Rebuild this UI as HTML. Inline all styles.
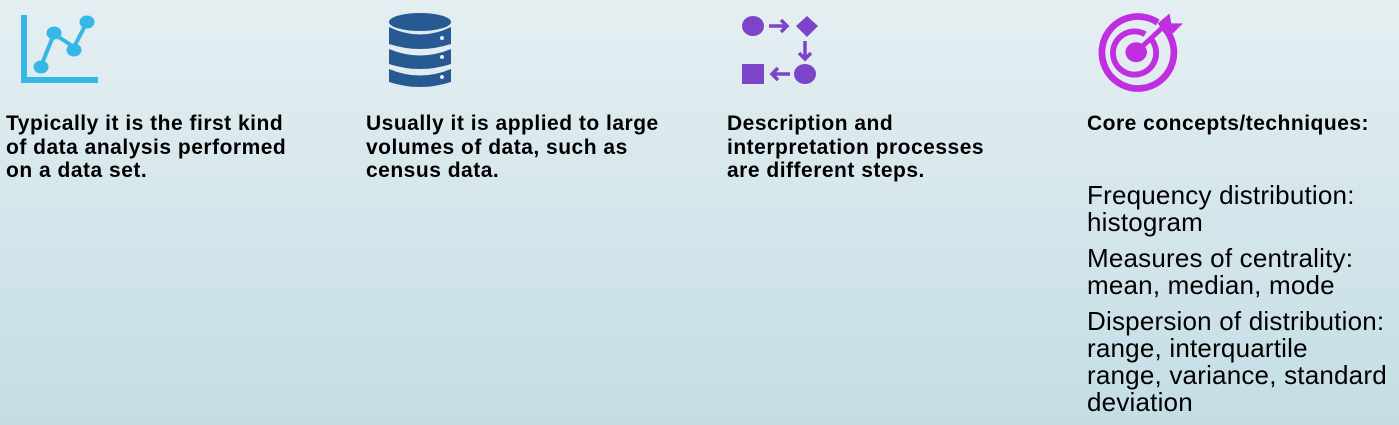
<!DOCTYPE html>
<html><head><style>
html,body{margin:0;padding:0}
body{width:1399px;height:425px;overflow:hidden;background:linear-gradient(#e5eff2,#c4dde5);font-family:"Liberation Sans",sans-serif;position:relative}
.b{position:absolute;font-weight:bold;font-size:21px;letter-spacing:0.5px;line-height:23.5px;color:#000;top:112px;white-space:nowrap}
.r{position:absolute;left:1087px;font-size:26px;letter-spacing:0.2px;line-height:27px;color:#000;white-space:nowrap}
svg{position:absolute}
</style></head><body>
<svg style="left:0;top:0" width="120" height="100">
<polyline points="24,15 24,80 98,80" fill="none" stroke="#35b8e8" stroke-width="6"/>
<polyline points="41,66 54,34 74,47 87,22" fill="none" stroke="#35b8e8" stroke-width="4"/>
<ellipse cx="41" cy="67" rx="7.5" ry="6.5" fill="#35b8e8"/>
<ellipse cx="54" cy="33" rx="7.5" ry="6.5" fill="#35b8e8"/>
<ellipse cx="74" cy="50" rx="7.5" ry="6.5" fill="#35b8e8"/>
<ellipse cx="87" cy="22" rx="7.5" ry="6.5" fill="#35b8e8"/>
</svg>
<svg style="left:386px;top:10px" width="70" height="80">
<ellipse cx="34" cy="12" rx="31" ry="9" fill="#275a93"/>
<path d="M3,17 Q34,32 65,17 V34 Q34,44 3,34Z" fill="#275a93"/>
<path d="M3,39 Q34,52 65,39 V54 Q34,64 3,54Z" fill="#275a93"/>
<path d="M3,59 Q34,72 65,59 V72 Q34,82 3,72Z" fill="#275a93"/>
<circle cx="56" cy="28" r="2" fill="#e3eef1"/><circle cx="56" cy="47" r="2" fill="#e3eef1"/><circle cx="56" cy="67" r="2" fill="#e3eef1"/>
</svg>
<svg style="left:740px;top:10px" width="80" height="80" fill="#7c44c8">
<ellipse cx="13" cy="16" rx="11" ry="10"/>
<path d="M56,16 L67,6 L78,16 L67,27Z"/>
<rect x="2" y="54" width="22" height="20"/>
<ellipse cx="65" cy="64" rx="11" ry="10"/>
<path d="M29,16 H47 M41,10 L47,16 L41,22" stroke="#7c44c8" stroke-width="3.5" fill="none"/>
<path d="M65,31 V49 M59,43 L65,49 L71,43" stroke="#7c44c8" stroke-width="3.5" fill="none"/>
<path d="M50,64 H32 M38,58 L32,64 L38,70" stroke="#7c44c8" stroke-width="3.5" fill="none"/>
</svg>
<svg style="left:1093px;top:9px" width="110" height="95">
<g transform="scale(0.9)">
<path d="M80,22 A40,40 0 1 1 72,15" fill="none" stroke="#c02ee0" stroke-width="7.5"/>
<path d="M65,34 A24,24 0 1 1 58,28" fill="none" stroke="#c02ee0" stroke-width="6.5"/>
<ellipse cx="48" cy="48" rx="12" ry="11" fill="#c02ee0"/>
<path d="M48,48 L82,16" stroke="#c02ee0" stroke-width="5.5"/>
<path d="M72,16 L85,5 L87,16 L100,16 L89,27 L78,25Z" fill="#c02ee0"/>
</g>
</svg>
<div class="b" style="left:6px">Typically it is the first kind<br>of data analysis performed<br>on a data set.</div>
<div class="b" style="left:366px">Usually it is applied to large<br>volumes of data, such as<br>census data.</div>
<div class="b" style="left:727px">Description and<br>interpretation processes<br>are different steps.</div>
<div class="b" style="left:1087px">Core concepts/techniques:</div>
<div class="r" style="top:182px">Frequency distribution:<br>histogram</div>
<div class="r" style="top:245px">Measures of centrality:<br>mean, median, mode</div>
<div class="r" style="top:308px">Dispersion of distribution:<br>range, interquartile<br>range, variance, standard<br>deviation</div>
</body></html>
